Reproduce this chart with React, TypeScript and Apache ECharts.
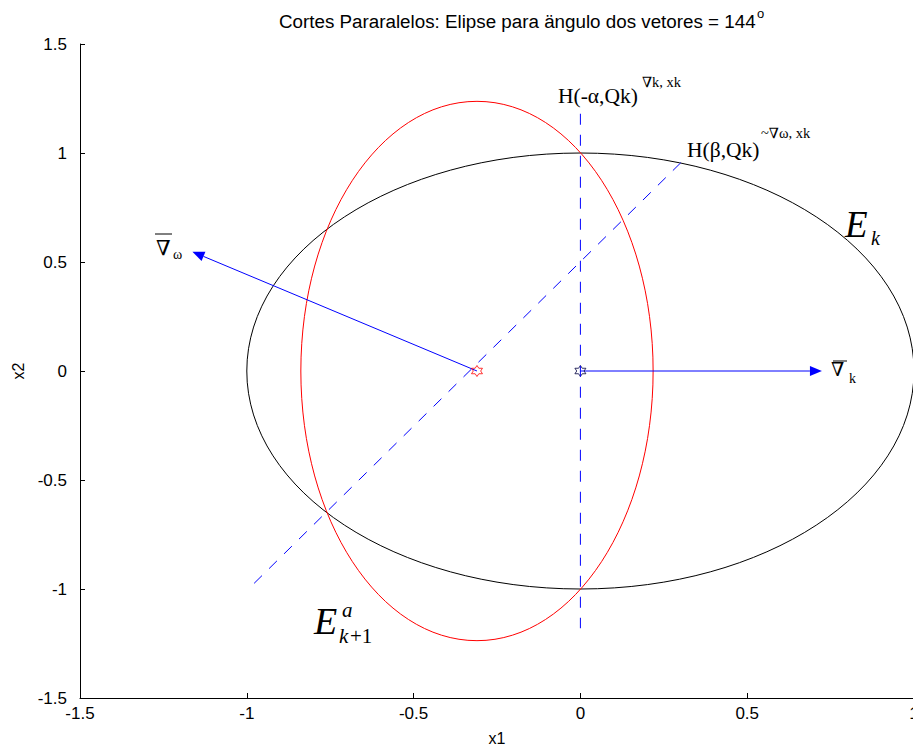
import React, { useEffect, useRef } from "react";
import * as echarts from "echarts";

// Axis ranges / ticks
const X_MIN = -1.5;
const X_MAX = 1;
const Y_MIN = -1.5;
const Y_MAX = 1.5;
const TICK_STEP = 0.5;

// Ellipses: [cx, cy, rx, ry]
const ellipseEk = [0, 0, 1, 1];
const ellipseEk1 = [-0.31, 0, 0.528, 1.237];

// Dashed cutting hyperplanes
const cutAlpha = [
  [0, 1.18],
  [0, -1.18],
];
const cutBeta = [
  [-0.978, -0.974],
  [0.308, 0.966],
];

// Gradient arrows: [x0, y0, x1, y1]
const gradOmega = [-0.31, 0, -1.163, 0.547];
const gradK = [0, 0, 0.724, 0];

// Centres (hexagram markers)
const centreRed = [[-0.31, 0]];
const centreBlack = [[0, 0]];

const HEXAGRAM =
  "path://M0,-10 L2.89,-5 L8.66,-5 L5.77,0 L8.66,5 L2.89,5 L0,10 L-2.89,5 L-8.66,5 L-5.77,0 L-8.66,-5 L-2.89,-5 Z";

const SANS = "'Liberation Sans', Arial, Helvetica, sans-serif";
const SERIF = "'Liberation Serif', 'Times New Roman', 'DejaVu Serif', serif";

const CHART_W = 940;
const CHART_H = 751;

function ellipseRender(color: string) {
  return (params: any, api: any) => {
    const c = api.coord([api.value(0), api.value(1)]);
    const s = api.size([api.value(2), api.value(3)]);
    return {
      type: "ellipse",
      shape: { cx: c[0], cy: c[1], rx: s[0], ry: s[1] },
      style: { fill: "none", stroke: color, lineWidth: 1 },
    };
  };
}

function arrowRender(params: any, api: any) {
  const p0 = api.coord([api.value(0), api.value(1)]);
  const p1 = api.coord([api.value(2), api.value(3)]);
  const dx = p1[0] - p0[0];
  const dy = p1[1] - p0[1];
  const L = Math.hypot(dx, dy);
  const ux = dx / L;
  const uy = dy / L;
  const hl = 12;
  const hw = 5;
  const bx = p1[0] - ux * hl;
  const by = p1[1] - uy * hl;
  return {
    type: "group",
    children: [
      {
        type: "line",
        shape: { x1: p0[0], y1: p0[1], x2: bx, y2: by },
        style: { stroke: "#0000ff", lineWidth: 1 },
      },
      {
        type: "polygon",
        shape: {
          points: [
            [p1[0], p1[1]],
            [bx - uy * hw, by + ux * hw],
            [bx + uy * hw, by - ux * hw],
          ],
        },
        style: { fill: "#0000ff" },
      },
    ],
  };
}

function txt(
  text: string,
  x: number,
  y: number,
  size: number,
  family: string,
  italic = false
) {
  return {
    type: "text",
    x,
    y,
    silent: true,
    style: {
      text,
      fill: "#000",
      fontSize: size,
      fontFamily: family,
      fontStyle: italic ? "italic" : "normal",
      align: "left",
      verticalAlign: "middle",
    },
  };
}

function hline(x1: number, x2: number, y: number) {
  return {
    type: "line",
    silent: true,
    shape: { x1, y1: y, x2, y2: y },
    style: { stroke: "#000", lineWidth: 1 },
  };
}

export default function App() {
  const ref = useRef<HTMLDivElement>(null);
  useEffect(() => {
    if (!ref.current) return;
    const chart = echarts.init(ref.current, null, { renderer: "svg" });
    const axisCommon = {
      type: "value",
      interval: TICK_STEP,
      axisLine: { show: true, onZero: false, lineStyle: { color: "#000", width: 1 } },
      axisTick: { show: true, inside: true, length: 5, lineStyle: { color: "#000" } },
      splitLine: { show: false },
      axisLabel: { color: "#000", fontSize: 17, fontFamily: SANS },
      nameTextStyle: { color: "#000", fontSize: 16, fontFamily: SANS },
    };
    chart.setOption({
      animation: false,
      backgroundColor: "#fff",
      grid: { left: 80, top: 44, right: CHART_W - 914, bottom: CHART_H - 700, containLabel: false },
      xAxis: {
        ...axisCommon,
        min: X_MIN,
        max: X_MAX,
        name: "x1",
        nameLocation: "middle",
        nameGap: 32,
        axisLabel: { ...axisCommon.axisLabel, margin: 7 },
      },
      yAxis: {
        ...axisCommon,
        min: Y_MIN,
        max: Y_MAX,
        name: "x2",
        nameLocation: "middle",
        nameGap: 52,
        axisLabel: { ...axisCommon.axisLabel, margin: 13 },
      },
      series: [
        {
          type: "custom",
          name: "Ek",
          renderItem: ellipseRender("#000000"),
          encode: { x: 0, y: 1 },
          data: [ellipseEk],
          silent: true,
        },
        {
          type: "custom",
          name: "Ek1",
          renderItem: ellipseRender("#ff0000"),
          encode: { x: 0, y: 1 },
          data: [ellipseEk1],
          silent: true,
        },
        {
          type: "line",
          data: cutAlpha,
          showSymbol: false,
          symbol: "none",
          lineStyle: { color: "#0000ff", width: 1, type: [11, 10] },
          silent: true,
        },
        {
          type: "line",
          data: cutBeta,
          showSymbol: false,
          symbol: "none",
          lineStyle: { color: "#0000ff", width: 1, type: [11, 10] },
          silent: true,
        },
        {
          type: "custom",
          renderItem: arrowRender,
          encode: { x: [0, 2], y: [1, 3] },
          data: [gradOmega, gradK],
          silent: true,
        },
        {
          type: "scatter",
          data: centreRed,
          symbol: HEXAGRAM,
          symbolSize: 11,
          itemStyle: { color: "rgba(0,0,0,0)", borderColor: "#ff0000", borderWidth: 1 },
          silent: true,
        },
        {
          type: "scatter",
          data: centreBlack,
          symbol: HEXAGRAM,
          symbolSize: 11,
          itemStyle: { color: "rgba(0,0,0,0)", borderColor: "#000040", borderWidth: 1 },
          silent: true,
        },
      ],
      graphic: [
        txt("Cortes Pararalelos: Elipse para ängulo dos vetores = 144", 279, 21, 18.8, SANS),
        txt("o", 757, 13, 13, SANS),
        // H(-alpha, Qk)
        txt("H(-α,Qk)", 558, 96, 21.5, SERIF),
        txt("∇k, xk", 642, 82, 14.5, SERIF),
        // H(beta, Qk)
        txt("H(β,Qk)", 687, 149.5, 21.5, SERIF),
        txt("~∇ω, xk", 761, 132.5, 14.5, SERIF),
        // grad omega label
        hline(155, 172, 234),
        txt("∇", 156, 248, 21, SERIF),
        txt("ω", 173, 254, 14, SERIF),
        // grad k label
        hline(833, 847, 361),
        txt("∇", 831, 369, 19, SERIF),
        txt("k", 849, 378.5, 14, SERIF),
        // E_k
        txt("E", 845, 224, 37, SERIF, true),
        txt("k", 871, 238, 20, SERIF, true),
        // E^a_{k+1}
        txt("E", 314, 621, 38, SERIF, true),
        txt("a", 342, 610, 21, SERIF, true),
        txt("k", 339, 636, 21, SERIF, true),
        txt("+1", 350, 636, 21, SERIF),
      ],
    });
    return () => chart.dispose();
  }, []);
  return (
    <div
      style={{
        position: "absolute",
        left: 0,
        top: 0,
        width: 913,
        height: 751,
        overflow: "hidden",
        background: "#fff",
      }}
    >
      <div ref={ref} style={{ width: CHART_W, height: CHART_H }} />
    </div>
  );
}
